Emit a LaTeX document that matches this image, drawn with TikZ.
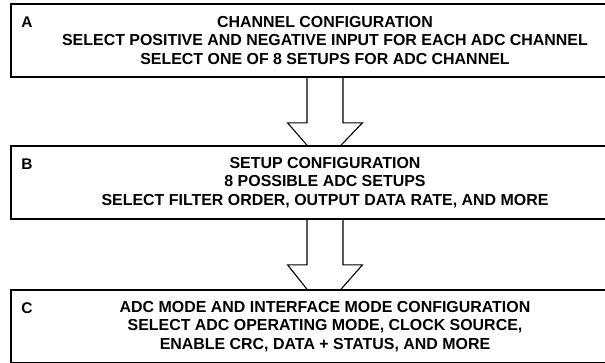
\documentclass[tikz,border=0pt]{standalone}
\usepackage{fontspec}
\setmainfont{Liberation Sans}
\usetikzlibrary{positioning, calc}

\begin{document}
\begin{tikzpicture}[
    x=1bp, y=-1bp,
    stagebox/.style={rectangle, draw=black, line width=1.6bp, fill=white, align=center,
        minimum width=628bp, minimum height=73bp, inner sep=0pt,
        font=\bfseries\fontsize{16}{18.6}\selectfont},
    stagetag/.style={anchor=base west, inner sep=0pt, font=\bfseries\fontsize{15.5}{18.5}\selectfont},
    flowline/.style={draw=black, line width=1.1bp}
]
\useasboundingbox (0,0) rectangle (605,362);
\clip (0,0) rectangle (605,362);

% ─── Configuration stages ────────────────────────────────────────────
\node[stagebox] (chan) at (325, 40.5) {CHANNEL CONFIGURATION\\SELECT POSITIVE AND NEGATIVE INPUT FOR EACH ADC CHANNEL\\SELECT ONE OF 8 SETUPS FOR ADC CHANNEL};
\node[stagebox] (setup) at (325, 182.5) {SETUP CONFIGURATION\\8 POSSIBLE ADC SETUPS\\SELECT FILTER ORDER, OUTPUT DATA RATE, AND MORE};
\node[stagebox] (mode) at (325, 326.5) {ADC MODE AND INTERFACE MODE CONFIGURATION\\SELECT ADC OPERATING MODE, CLOCK SOURCE,\\ENABLE CRC, DATA + STATUS, AND MORE};

% ─── Stage letters ───────────────────────────────────────────────────
\node[stagetag] (tagA) at ($(chan.north west)+(11,24)$) {A};
\node[stagetag] (tagB) at ($(setup.north west)+(11,24)$) {B};
\node[stagetag] (tagC) at ($(mode.north west)+(11,24)$) {C};

% ─── Hollow arrows between stages ────────────────────────────────────
\foreach \a/\b in {chan/setup, setup/mode} {
    \draw[flowline] ([xshift=-18bp]\a.south) -- ++(0,45) -- ++(-19.5,0) -- ([xshift=-18bp]\b.north);
    \draw[flowline] ([xshift=18bp]\a.south) -- ++(0,45) -- ++(19.5,0) -- ([xshift=16bp]\b.north);
}

\end{tikzpicture}
\end{document}
